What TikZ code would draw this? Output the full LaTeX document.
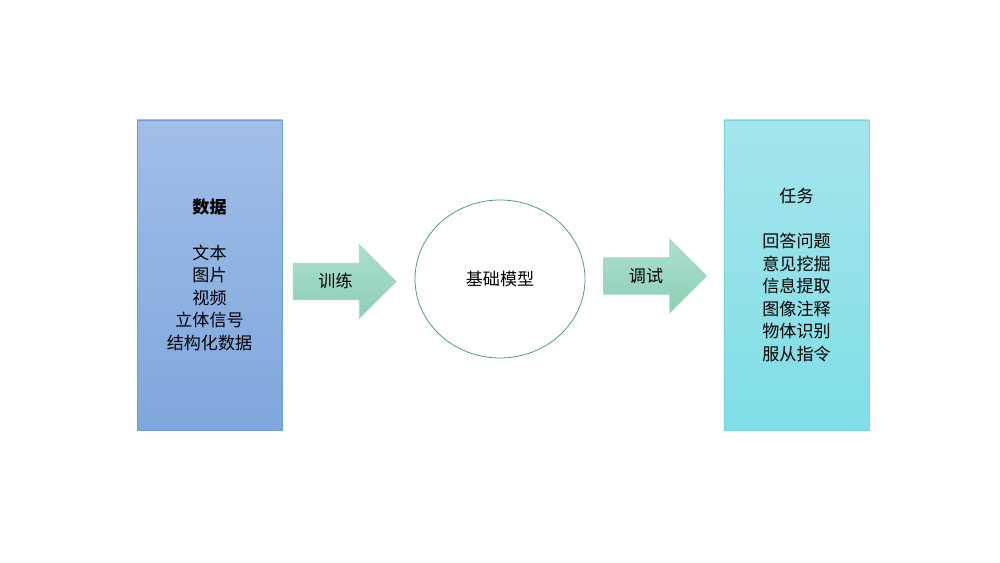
\documentclass[tikz,border=0pt]{standalone}
\usepackage{fontspec}
\usetikzlibrary{shapes.arrows,shapes.geometric}
\setmainfont{Noto Sans CJK SC}
\definecolor{datatop}{RGB}{161,190,232}
\definecolor{databot}{RGB}{126,167,221}
\definecolor{dataline}{RGB}{110,155,215}
\definecolor{tasktop}{RGB}{165,228,235}
\definecolor{taskbot}{RGB}{128,222,230}
\definecolor{taskline}{RGB}{120,215,226}
\definecolor{arrtop}{RGB}{172,224,207}
\definecolor{arrbot}{RGB}{140,206,180}
\definecolor{arrline}{RGB}{160,218,198}
\definecolor{modline}{RGB}{80,155,145}

\begin{document}
\begin{tikzpicture}[x=.75pt,y=.75pt,font=\fontsize{12.8}{16.9}\selectfont,
col/.style={draw,line width=.6pt,align=center,minimum width=108.75pt,minimum height=232.5pt},
flow/.style={single arrow,draw=arrline,line width=.5pt,top color=arrtop,bottom color=arrbot,
  inner xsep=4pt,inner ysep=0pt,text height=18.25pt,text depth=8.75pt,
  minimum width=54.75pt,single arrow head extend=13.9pt,minimum height=77.25pt,shape border rotate=0}]

\useasboundingbox(0,0)rectangle(1000,563);
\node[col,draw=dataline,top color=datatop,bottom color=databot](data)at(209.5,288){\textbf{数据}\\ \\文本\\图片\\视频\\立体信号\\结构化数据};
\node[col,draw=taskline,top color=tasktop,bottom color=taskbot](task)at(796.5,288){任务\\ \\回答问题\\意见挖掘\\信息提取\\图像注释\\物体识别\\服从指令};
\node[draw=modline,line width=.6pt,ellipse,minimum width=127.5pt,minimum height=118.5pt,fill=white](model)at(500,284){基础模型};
\node[flow](train)at(335.5,281.5){训练};
\node[flow](tune)at(646,287){调试};
\end{tikzpicture}
\end{document}
